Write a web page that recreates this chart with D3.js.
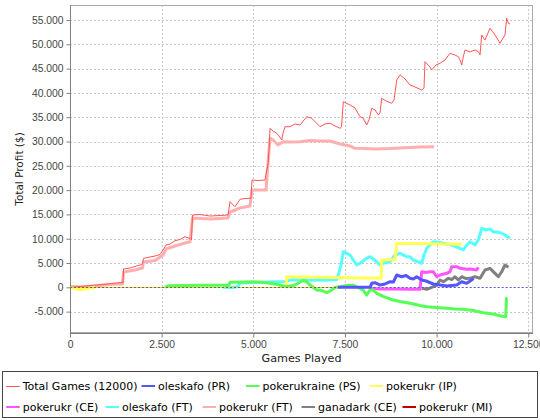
<!DOCTYPE html>
<html><head><meta charset="utf-8">
<script src="https://cdn.jsdelivr.net/npm/d3@7"></script>
<style>body{margin:0;background:#fff}svg{display:block}</style>
</head><body>
<svg id="c" width="540" height="420"></svg>
<script>
// ---------- DATA (games played, total profit $) ----------
const seriesNames = ["Total Games (12000)", "oleskafo (PR)", "pokerukraine (PS)", "pokerukr (IP)",
  "pokerukr (CE)", "oleskafo (FT)", "pokerukr (FT)", "ganadark (CE)", "pokerukr (MI)"];
const seriesColors = ["#ff5555", "#5555ff", "#55ff55", "#ffff55", "#ff55ff", "#55ffff", "#ffafaf", "#808080", "#c00000"];

const xTicks = [0, 2500, 5000, 7500, 10000, 12500];
const xTickLabels = ["0", "2.500", "5.000", "7.500", "10.000", "12.500"];
const yTicks = [-5000, 0, 5000, 10000, 15000, 20000, 25000, 30000, 35000, 40000, 45000, 50000, 55000];
const yTickLabels = ["-5.000", "0", "5.000", "10.000", "15.000", "20.000", "25.000", "30.000", "35.000", "40.000", "45.000", "50.000", "55.000"];

const totalGames = [[0,0],[273,165],[546,370],[818,535],[1173,823],[1310,926],[1446,990],[1460,3770],[1637,3970],[1773,4280],
 [1910,4590],[1978,4800],[2005,5970],[2182,6240],[2319,6440],[2455,6750],[2537,7680],[2619,8700],[2728,8910],[2864,9590],
 [3001,9840],[3137,10410],[3274,10040],[3314,9730],[3342,14880],[3546,14980],[3819,14670],[4092,14780],[4310,14880],[4365,17620],
 [4501,16590],[4638,18110],[4774,18280],[4938,18320],[4965,22080],[5129,21980],[5320,22080],[5366,24140],[5401,25170],[5429,28260],
 [5456,32720],[5538,32170],[5639,31690],[5702,31140],[5775,30310],[5811,31750],[5866,33050],[6002,33050],[6138,33610],[6275,33400],
 [6457,35110],[6594,34780],[6730,33750],[6820,33050],[6957,33610],[7093,33750],[7229,33200],[7366,32720],[7406,32990],[7456,38190],
 [7638,37520],[7775,36900],[7911,35110],[7993,34840],[8094,33400],[8157,34430],[8231,36840],[8321,36490],[8411,35460],[8457,35870],
 [8503,38900],[8621,38340],[8776,37870],[8839,38550],[8913,42660],[9003,43690],[9139,42870],[9275,41630],[9412,41220],[9594,40600],
 [9657,41020],[9684,46430],[9821,45340],[9867,44720],[9985,45750],[10094,46100],[10230,46780],[10366,48150],[10503,47800],[10593,47450],
 [10639,46770],[10686,45750],[10721,47190],[10776,48840],[10912,48430],[11048,48840],[11138,48490],[11185,47810],[11231,51920],[11321,50890],
 [11457,53300],[11594,51920],[11730,50210],[11812,51300],[11866,51920],[11913,55360],[11957,54330],[12003,54190]];

const oleskafoPR = [[7311,0],[8184,0],[8231,820],[8321,950],[8457,470],[8594,680],[8730,1150],[8821,1090],[8913,2530],[9048,2180],
 [9166,2430],[9275,1850],[9366,1710],[9457,2180],[9594,1500],[9712,1300],[9912,680],[10094,470],[10277,270],[10549,470],
 [10686,1150],[10821,820],[10957,1500],[11003,1850]];

const pokerukrainePS = [[2592,0],[2673,330],[3137,370],[3546,410],[3956,410],[4338,470],[4365,1030],[4774,1090],[4992,1150],[5366,950],
 [5593,680],[5912,120],[6138,470],[6357,1400],[6457,1150],[6547,470],[6730,-560],[6875,-660],[7003,-1070],[7093,-760],
 [7229,-40],[7366,120],[7548,370],[7720,470],[7911,-210],[7993,-560],[8094,-1580],[8184,-560],[8266,-560],[8367,-1230],
 [8594,-2000],[8812,-2610],[9003,-2920],[9275,-3290],[9548,-3750],[9731,-3990],[9985,-4160],[10277,-4320],[10503,-4470],[10730,-4530],
 [10994,-4770],[11275,-5230],[11540,-5490],[11821,-6010],[11885,-6050],[11907,-2260],[11929,-2260]];

const pokerukrIP = [[0,0],[136,-250],[273,-450],[409,-350],[546,-140],[682,-40],[700,null],
 [5893,0],[5912,2180],[6275,2120],[6820,2060],[7366,2020],[7911,1910],[8484,1850],[8503,5620],[8866,5720],[8913,9010],
 [9548,9010],[10094,8910],[10686,8850]];

const pokerukrCE = [[8184,-210],[8457,-350],[8866,-350],[9275,-410],[9548,-410],[9594,3210],[9712,3050],[9821,3210],[9912,3210],[10003,2180],
 [10094,2530],[10277,2880],[10366,3210],[10412,4240],[10549,4240],[10639,3910],[10821,3700],[10912,3770],[11094,3560],[11138,4120]];

const oleskafoFT = [[4174,0],[4420,-40],[4583,160],[4638,880],[5047,990],[5538,1150],[5920,1190],[6002,1500],[6547,1500],[6957,1440],
 [7275,1610],[7319,2530],[7393,4590],[7456,7330],[7638,6650],[7821,4590],[7911,4940],[8094,5970],[8184,6300],[8367,5270],
 [8457,4590],[8548,4940],[8730,5270],[8866,6650],[9003,7000],[9185,6300],[9275,6300],[9366,5620],[9594,4940],[9657,6650],
 [9731,8030],[9912,9380],[10094,9220],[10185,9050],[10458,8600],[10730,7680],[10803,8500],[10912,9380],[11048,8700],[11138,9730],
 [11231,12140],[11349,11790],[11457,12000],[11548,11440],[11730,11280],[11866,10760],[12003,10080]];

const pokerukrFT = [[0,0],[273,60],[546,165],[818,370],[1091,580],[1432,680],[1460,3150],[1773,3560],[1978,3970],[2005,5210],
 [2319,5520],[2537,6650],[2619,7880],[2864,8500],[3137,9120],[3274,9380],[3342,14260],[3819,14060],[4310,14260],[4365,15500],
 [4638,16320],[4911,16730],[4965,20020],[5347,20020],[5388,24140],[5429,28260],[5456,30660],[5538,30310],[5675,29290],[5811,29960],
 [6002,29900],[6275,29960],[6547,30210],[6820,30110],[7093,30110],[7366,29490],[7638,29080],[7775,28610],[8048,28560],[8321,28460],
 [8730,28560],[9139,28730],[9548,28870],[9930,28930]];

const ganadarkCE = [[9594,-210],[9731,-410],[9867,0],[10003,470],[10094,1500],[10185,1150],[10321,1850],[10421,1610],[10503,2180],[10593,1500],
 [10686,2180],[10803,1810],[10912,1850],[11048,2180],[11185,1850],[11321,3560],[11457,3910],[11594,2880],[11685,2180],[11776,3210],
 [11866,4590],[11957,4120]];

const pokerukrMI = [[0,0],[150,0],[300,-40]];

const allSeries = [totalGames, oleskafoPR, pokerukrainePS, pokerukrIP, pokerukrCE, oleskafoFT, pokerukrFT, ganadarkCE, pokerukrMI];

// ---------- LAYOUT ----------
const svg = d3.select("#c");
const L = 70, R = 533, T = 5, B = 333;
const x = d3.scaleLinear().domain([0, 12630]).range([L, R]);
const y = d3.scaleLinear().domain([-9400, 58090]).range([B, T]);
const tickFont = "'Liberation Sans', Arial, sans-serif";
const textFont = "'DejaVu Sans', sans-serif";

svg.append("rect").attr("x", 0).attr("y", 0).attr("width", 540).attr("height", 420).attr("fill", "#fff");

// gridlines
const grid = svg.append("g");
yTicks.forEach(t => {
  grid.append("line").attr("x1", L).attr("x2", R).attr("y1", Math.round(y(t)) + 0.5).attr("y2", Math.round(y(t)) + 0.5)
    .attr("stroke", "#c8c8c8").attr("stroke-dasharray", "2,2");
});
xTicks.forEach(t => {
  grid.append("line").attr("y1", T).attr("y2", B).attr("x1", Math.round(x(t)) + 0.5).attr("x2", Math.round(x(t)) + 0.5)
    .attr("stroke", "#c8c8c8").attr("stroke-dasharray", "2,2");
});

// series (reverse rendering order, like JFreeChart)
svg.append("clipPath").attr("id", "pc").append("rect")
  .attr("x", L).attr("y", T).attr("width", R - L).attr("height", B - T);
const plotG = svg.append("g").attr("clip-path", "url(#pc)");
const line = d3.line().defined(d => d[1] !== null).x(d => x(d[0])).y(d => y(d[1]));
for (let i = allSeries.length - 1; i >= 0; i--) {
  plotG.append("path").datum(allSeries[i]).attr("d", line)
    .attr("fill", "none").attr("stroke", seriesColors[i])
    .attr("stroke-width", i === 0 ? 1 : 3)
    .attr("stroke-linejoin", "round").attr("stroke-linecap", "butt");
}

// zero marker
const y0 = Math.round(y(0)) + 0.5;
plotG.append("line").attr("x1", L).attr("x2", x(7300)).attr("y1", y0).attr("y2", y0)
  .attr("stroke", "#e0d040").attr("stroke-width", 1);
plotG.append("line").attr("x1", L).attr("x2", x(7300)).attr("y1", y0).attr("y2", y0)
  .attr("stroke", "#6a6a50").attr("stroke-width", 1).attr("stroke-dasharray", "2,2");
plotG.append("line").attr("x1", x(7300)).attr("x2", R).attr("y1", y0).attr("y2", y0)
  .attr("stroke", "#5a5ae6").attr("stroke-width", 1).attr("stroke-dasharray", "2,2");

// outline
svg.append("rect").attr("x", L + 0.5).attr("y", T + 0.5).attr("width", R - L - 1).attr("height", B - T - 1)
  .attr("fill", "none").attr("stroke", "#a8a8a8");

// axes
const yAxis = d3.axisLeft(y).tickValues(yTicks).tickFormat((d, i) => yTickLabels[i]).tickSizeInner(4).tickSizeOuter(0).tickPadding(3);
const gy = svg.append("g").attr("transform", `translate(${L + 0.5},0)`).call(yAxis);
const xAxis = d3.axisBottom(x).tickValues(xTicks).tickFormat((d, i) => xTickLabels[i]).tickSizeInner(4).tickSizeOuter(0).tickPadding(3);
const gx = svg.append("g").attr("transform", `translate(0,${B + 0.5})`).call(xAxis);
[gx, gy].forEach(g => {
  g.select(".domain").attr("stroke", "#808080");
  g.selectAll(".tick line").attr("stroke", "#808080");
  g.selectAll(".tick text").attr("fill", "#444").style("font-family", tickFont).style("font-size", "10.3px");
});
gy.select(".domain").attr("d", `M0,${T}V${B}`);
gx.select(".domain").attr("d", `M${L},0H${R}`);

// axis titles
svg.append("text").attr("x", (L + R) / 2).attr("y", 362).attr("text-anchor", "middle")
  .style("font-family", textFont).style("font-size", "11.2px").attr("fill", "#222").text("Games Played");
svg.append("text").attr("transform", `translate(23,${(T + B) / 2}) rotate(-90)`).attr("text-anchor", "middle")
  .style("font-family", textFont).style("font-size", "10.5px").attr("fill", "#222").text("Total Profit ($)");

// legend
svg.append("rect").attr("x", 2.5).attr("y", 371.5).attr("width", 535).attr("height", 46)
  .attr("fill", "#fff").attr("stroke", "#444");
const legendTextX = [22.7, 158, 262.5, 386, 22.7, 122, 219, 318, 419];
const legendRowY = [386, 386, 386, 386, 407, 407, 407, 407, 407];
seriesNames.forEach((n, i) => {
  const lx = legendTextX[i], ly = legendRowY[i];
  svg.append("line").attr("x1", lx - 16.5).attr("x2", lx - 3)
    .attr("y1", i === 0 ? ly + 0.5 : ly).attr("y2", i === 0 ? ly + 0.5 : ly)
    .attr("stroke", seriesColors[i]).attr("stroke-width", i === 0 ? 1 : 2);
  svg.append("text").attr("x", lx).attr("y", ly + 4).style("font-family", textFont)
    .style("font-size", "11px").attr("fill", "#000").text(n);
});
</script>
</body></html>
